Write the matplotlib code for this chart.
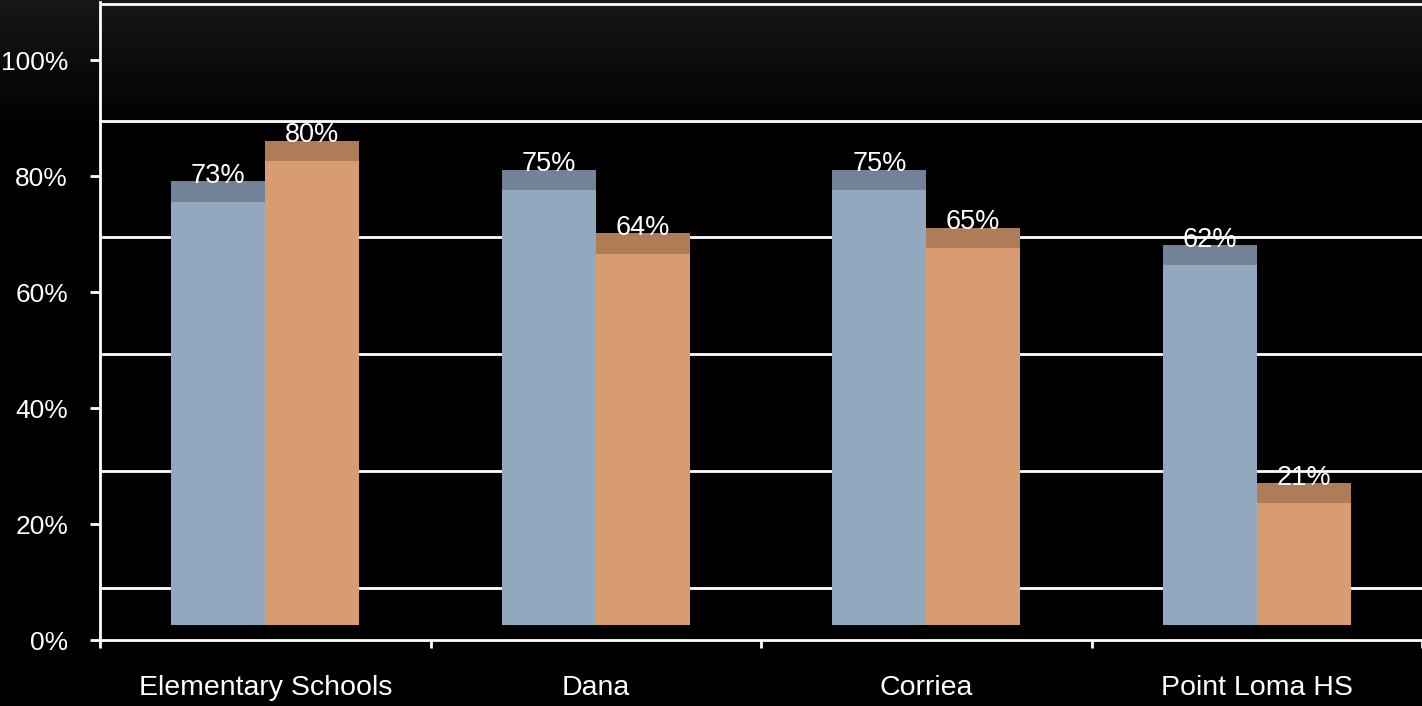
import numpy as np
import matplotlib
matplotlib.use("Agg")
import matplotlib.pyplot as plt

# data
categories = ["Elementary Schools", "Dana", "Corriea", "Point Loma HS"]
series_a = [0.73, 0.75, 0.75, 0.62]   # blue bars
series_b = [0.80, 0.64, 0.65, 0.21]   # orange bars
yticks = [0, 0.2, 0.4, 0.6, 0.8, 1.0]
ytick_labels = ["0%", "20%", "40%", "60%", "80%", "100%"]

plt.rcParams['font.family'] = ['Liberation Sans', 'DejaVu Sans']

W, H = 1422, 706
fig = plt.figure(figsize=(W / 100, H / 100), dpi=100, facecolor="black")

# dark gradient at the top of the slide
bg = fig.add_axes([0, 0, 1, 1])
grad = np.clip(1 - np.linspace(0, 1, H) / 0.19, 0, 1) * 0.09
img = np.repeat(grad[:, None, None], 3, axis=2).repeat(2, axis=1)
bg.imshow(img, aspect="auto", extent=[0, 1, 0, 1], origin="upper")
bg.axis("off")

ax = fig.add_axes([100 / W, (H - 640) / H, 1322 / W, 638 / H])
ax.set_facecolor("none")
ax.set_xlim(0, 4)
ax.set_ylim(0, 1.1)

# back wall gridlines (shifted up for the 3d look)
for v in yticks:
    ax.axhline(0.09 + v * 1.007, color="white", lw=2, zorder=1)

base = 0.026   # floor of the 3d bars
depth = 0.035  # height of the bar tops
w = 0.284
x = np.arange(len(categories)) + 0.5

blue, blue_top = "#91a8be", "#728399"
orange, orange_top = "#d89c72", "#ae7d58"

ax.bar(x - w / 2, series_a, width=w, bottom=base, color=blue, zorder=3)
ax.bar(x - w / 2, depth, width=w, bottom=base + np.array(series_a), color=blue_top, zorder=3)
ax.bar(x + w / 2, series_b, width=w, bottom=base, color=orange, zorder=3)
ax.bar(x + w / 2, depth, width=w, bottom=base + np.array(series_b), color=orange_top, zorder=3)

for xi, v in zip(x - w / 2, series_a):
    ax.text(xi, base + v + depth - 0.003, "{:.0f}%".format(v * 100), ha="center", va="baseline",
            color="white", fontsize=19.5, zorder=4)
for xi, v in zip(x + w / 2, series_b):
    ax.text(xi, base + v + depth - 0.003, "{:.0f}%".format(v * 100), ha="center", va="baseline",
            color="white", fontsize=19.5, zorder=4)

# axes styling
for s in ["top", "right"]:
    ax.spines[s].set_visible(False)
for s in ["left", "bottom"]:
    ax.spines[s].set_color("white")
    ax.spines[s].set_linewidth(2)
    ax.spines[s].set_zorder(5)

ax.set_yticks(yticks)
ax.set_yticklabels(ytick_labels)
ax.tick_params(axis="y", colors="white", length=7, width=2, pad=16, labelsize=19)

ax.set_xticks([0, 1, 2, 3, 4])
ax.set_xticklabels([])
ax.set_xticks(x, minor=True)
ax.set_xticklabels(categories, minor=True)
ax.tick_params(axis="x", which="major", colors="white", length=6, width=2)
ax.tick_params(axis="x", which="minor", colors="white", length=0, pad=25, labelsize=20.5)

fig.savefig("out.png", dpi=100, facecolor="black")
